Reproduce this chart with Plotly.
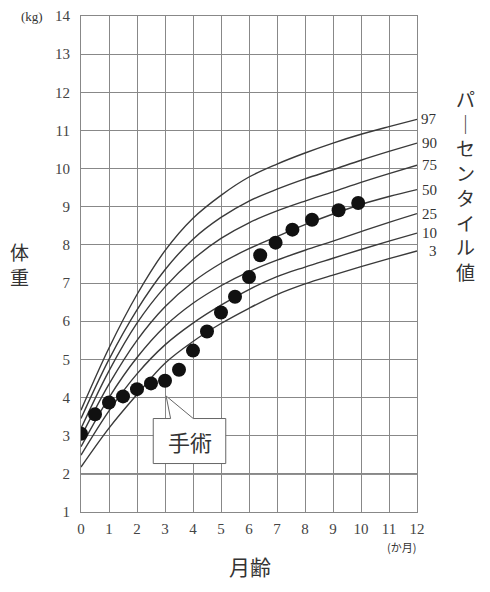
import plotly.graph_objects as go

# percentile curves (kg), by month of age
curve_months = [0, 1, 2, 3, 4, 5, 6, 7, 8, 9, 10, 11, 12]
p97 = [3.67, 5.30, 6.70, 7.85, 8.70, 9.30, 9.78, 10.12, 10.41, 10.67, 10.90, 11.10, 11.29]
p90 = [3.45, 5.00, 6.30, 7.35, 8.15, 8.72, 9.15, 9.46, 9.73, 9.97, 10.22, 10.45, 10.67]
p75 = [3.19, 4.70, 5.95, 6.90, 7.62, 8.17, 8.58, 8.89, 9.15, 9.39, 9.64, 9.87, 10.09]
p50 = [2.97, 4.35, 5.50, 6.38, 7.03, 7.52, 7.90, 8.22, 8.53, 8.81, 9.06, 9.27, 9.45]
p25 = [2.71, 4.00, 5.05, 5.87, 6.47, 6.93, 7.30, 7.60, 7.86, 8.10, 8.35, 8.59, 8.82]
p10 = [2.49, 3.65, 4.62, 5.38, 5.95, 6.42, 6.83, 7.17, 7.42, 7.65, 7.88, 8.10, 8.31]
p03 = [2.18, 3.20, 4.08, 4.90, 5.47, 5.94, 6.34, 6.70, 6.98, 7.21, 7.43, 7.64, 7.84]

percentile_names = ["97", "90", "75", "50", "25", "10", "3"]
percentile_values = [p97, p90, p75, p50, p25, p10, p03]

# the child's measured weights
child_months = [0, 0.5, 1, 1.5, 2, 2.5, 3, 3.5, 4, 4.5, 5, 5.5, 6, 6.4, 6.95, 7.55, 8.25, 9.2, 9.9]
child_weights = [3.05, 3.56, 3.87, 4.03, 4.22, 4.37, 4.44, 4.73, 5.23, 5.73, 6.23, 6.64,
                 7.16, 7.73, 8.06, 8.40, 8.66, 8.91, 9.10]
surgery_index = 6  # 3 months

x_ticks = list(range(0, 13))
y_ticks = list(range(1, 15))

SERIF = "Liberation Serif, serif"
CJK = "Noto Sans CJK JP, sans-serif"
TXT = "#333"
GRID = "#888"

# the page body adds an 8px margin, so the figure is drawn 8px smaller
PAGE = 8
L, T, PW, PH = 81 - PAGE, 16 - PAGE, 336, 496


def px(x_px, y_px):
    """page pixel -> paper coords"""
    return (x_px - PAGE - L) / PW, (T + PH - (y_px - PAGE)) / PH


fig = go.Figure()

for name, ys in zip(percentile_names, percentile_values):
    fig.add_trace(go.Scatter(
        x=curve_months, y=ys, mode="lines", name=name,
        line=dict(color="#3a3a3a", width=1.4, shape="spline", smoothing=1.0),
        hoverinfo="skip", showlegend=False,
    ))
    fig.add_annotation(
        x=curve_months[-1], y=ys[-1], text=name, showarrow=False,
        xanchor="right", xshift=22, font=dict(family=SERIF, size=15, color=TXT),
    )

fig.add_trace(go.Scatter(
    x=child_months, y=child_weights, mode="markers",
    marker=dict(color="#111", size=14), showlegend=False,
))

# darker baseline at 2 kg
fig.add_hline(y=2, line_color="#222", line_width=1.2, layer="below")

# speech bubble pointing up at the surgery point
sx, sy = child_months[surgery_index], child_weights[surgery_index]
tip = (sx + 0.04, sy - 0.40)
bl, br, bt, bb = sx - 0.42, sx + 2.17, sy - 0.99, sy - 2.17
wl, wr = sx + 0.20, sx + 1.01
fig.add_shape(
    type="path", layer="above",
    path=(f"M {bl},{bt} L {wl},{bt} L {tip[0]},{tip[1]} L {wr},{bt} "
          f"L {br},{bt} L {br},{bb} L {bl},{bb} Z"),
    fillcolor="white", line=dict(color="#666", width=1),
)
fig.add_annotation(
    x=(bl + br) / 2, y=(bt + bb) / 2, text="手術", showarrow=False,
    font=dict(family=CJK, size=22, color=TXT),
)


def label(text, x_px, y_px, size, family=CJK):
    xp, yp = px(x_px, y_px)
    fig.add_annotation(
        xref="paper", yref="paper", x=xp, y=yp,
        text=text, showarrow=False, xanchor="center", yanchor="middle",
        font=dict(family=family, size=size, color=TXT),
    )


# vertical titles, one character per line
label("<br>".join("パ｜センタイル値"), 465, 185, 19)
label("<br>".join("体重"), 19, 264, 19)

label("月齢", 250, 566, 21)
label("(kg)", 32, 16, 13, SERIF)
label("(か月)", 401, 547, 11)

axis_common = dict(
    showgrid=True, gridcolor=GRID, gridwidth=1,
    showline=True, linecolor=GRID, linewidth=1, mirror=True,
    zeroline=False, ticks="", automargin=False,
    tickfont=dict(family=SERIF, size=15, color="#444"),
)
fig.update_xaxes(range=[0, 12], tickvals=x_ticks, ticklabelstandoff=3, **axis_common)
fig.update_yaxes(range=[1, 14], tickvals=y_ticks, ticklabelstandoff=7, **axis_common)

fig.update_layout(
    width=L + PW + 73, height=T + PH + 80,
    margin=dict(l=L, r=73, t=T, b=80),
    plot_bgcolor="white", paper_bgcolor="white",
    showlegend=False,
)

fig.write_html("out.html")
